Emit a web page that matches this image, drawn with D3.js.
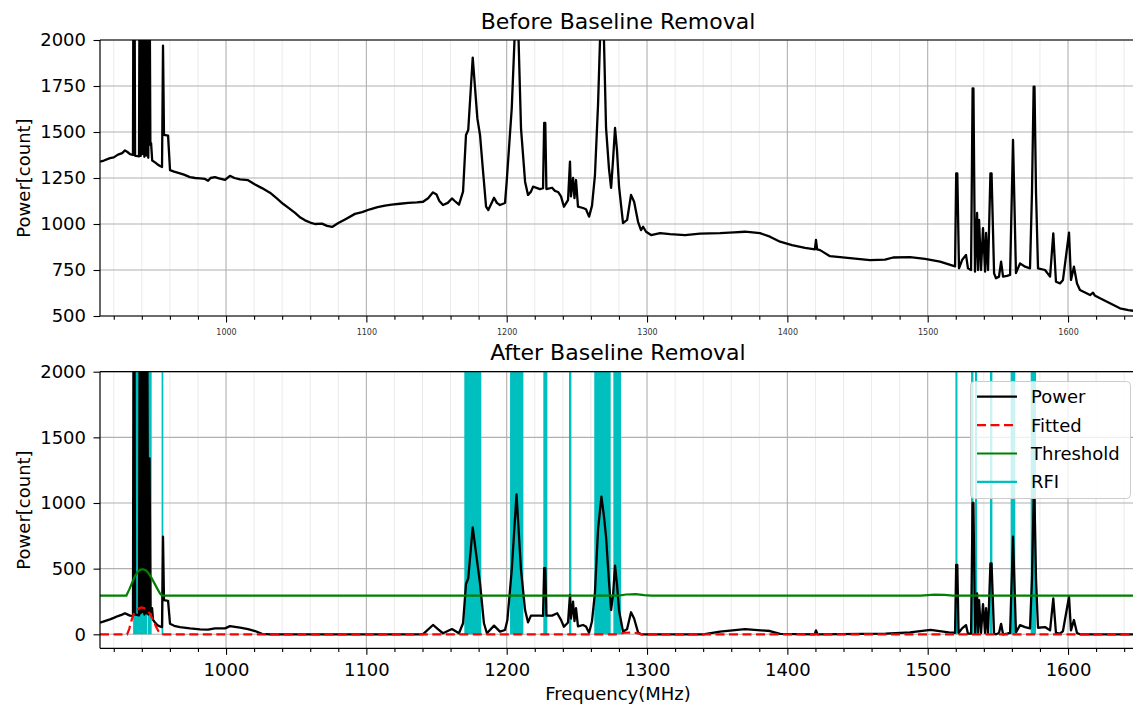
<!DOCTYPE html>
<html>
<head>
<meta charset="utf-8">
<script src="https://cdnjs.cloudflare.com/ajax/libs/d3/7.8.5/d3.min.js"></script>
<style>
body { margin: 0; background: #fff; }
svg text { font-family: "DejaVu Sans", sans-serif; fill: #000; }
</style>
</head>
<body>
<div class="svgHolder"></div>
<script>
const wd = 1133
const ht = 706

const rawSpectrum = [
  [910.2,1339],[913,1345],[917.3,1358],[920,1362],[923,1377],[926,1385],[928,1400],[930,1390],[931.6,1380],[933.7,1375],
  [934.1,2600],[934.7,2600],[935.2,1372],[935.9,1370],[938,1368],[938.5,2600],[939.2,1370],[939.8,2600],[940.5,1380],
  [941.1,2600],[941.8,1365],[942.4,2600],[943.2,1372],[943.8,2600],[944.6,1360],[945.4,2600],[946.1,1430],[946.6,1440],
  [947.4,1345],[949.4,1335],[951,1325],[953,1315],[954.4,1310],[955.1,1969],[955.8,1484],[958.7,1480],[960.1,1293],
  [963,1285],[967.2,1275],[970,1268],[974.3,1255],[978,1250],[981.5,1248],[985,1245],[987.2,1235],[989,1250],[992.1,1255],
  [995,1248],[999.3,1240],[1002.8,1262],[1006,1250],[1010,1243],[1015.7,1238],[1020.7,1215],[1025.6,1195],[1031.3,1170],
  [1036,1140],[1040.6,1110],[1045,1085],[1049.2,1060],[1053,1035],[1056.3,1020],[1060,1008],[1063.4,1000],[1068.4,1002],
  [1072,990],[1075.6,984],[1080,1005],[1084.8,1025],[1091.9,1055],[1097,1065],[1102.6,1080],[1108,1092],[1113.3,1100],
  [1118,1105],[1124,1110],[1130,1115],[1136,1118],[1140.4,1121],[1144,1140],[1147.5,1172],[1150,1160],[1152,1125],
  [1154.6,1103],[1158,1115],[1161,1139],[1163,1125],[1166,1105],[1168.9,1176],[1171,1484],[1172.6,1511],[1175.8,1904],
  [1179.1,1574],[1181,1484],[1183,1300],[1185.3,1094],[1186.9,1076],[1189,1110],[1191,1143],[1193,1115],[1195.2,1103],
  [1198.8,1114],[1200,1230],[1203.6,1629],[1206.1,2100],[1208.1,2100],[1210.2,1520],[1213.1,1230],[1215.2,1158],
  [1217.3,1176],[1218.8,1203],[1223.7,1190],[1225.9,1195],[1226.7,1549],[1227.5,1549],[1228.3,1190],[1232.3,1197],
  [1234.4,1180],[1236.6,1174],[1238.7,1150],[1240.8,1094],[1243.7,1130],[1245.1,1339],[1245.8,1150],[1247.3,1250],
  [1248.3,1141],[1249.4,1239],[1250.8,1094],[1254.4,1087],[1256.5,1080],[1258.7,1040],[1260.8,1100],[1262.9,1266],
  [1265.1,1650],[1266.9,2100],[1269,2100],[1270.8,1522],[1272.9,1300],[1274.4,1196],[1275.8,1350],[1277.2,1522],
  [1278.6,1400],[1280.1,1200],[1282.9,1005],[1285.8,1022],[1288.6,1158],[1290.8,1121],[1293.6,1012],[1295.7,967],
  [1297.2,985],[1299.3,958],[1302.9,940],[1309.3,950],[1316.4,945],[1327.1,940],[1337.8,948],[1352,950],[1362,955],
  [1369.8,958],[1380.5,950],[1387.6,931],[1394.8,904],[1403.3,885],[1412.6,870],[1419.6,862],[1420.4,913],[1421.2,862],
  [1423.3,858],[1430.4,825],[1444.7,815],[1458.9,804],[1469.6,806],[1475.3,818],[1487.4,820],[1498.1,810],[1508.8,795],
  [1519.5,770],[1520.3,1275],[1521.1,1275],[1522.3,759],[1524.5,804],[1527.3,832],[1528.7,759],[1530.9,750],
  [1532,1737],[1532.6,1737],[1533.7,741],[1535.2,1060],[1535.9,750],[1536.6,1022],[1538,750],[1539.4,978],[1540.9,741],
  [1541.6,951],[1543,750],[1544.7,1275],[1545.5,1275],[1547.3,732],[1548.7,705],[1550.8,714],[1552.3,795],[1553.7,714],
  [1556.5,718],[1558.7,723],[1560.8,1457],[1562.9,733],[1565.8,786],[1569.4,768],[1572.9,759],[1574.3,1168],
  [1575.5,1746],[1576.1,1746],[1577.2,1168],[1578.6,759],[1583.6,750],[1587.2,714],[1589.5,949],[1591.4,686],
  [1594.3,677],[1596.4,696],[1600.7,953],[1602.1,696],[1604.2,768],[1606.4,677],[1608.5,641],[1615.7,614],[1617.8,627],
  [1619,612],[1622.8,596],[1629.9,569],[1637,542],[1643,532],[1650,525]
]

// [MHz, count] after baseline removal
const cleanSpectrum = [
  [910.2,88],[913,98],[917.3,114],[920,125],[923,139],[926,150],[928,160],[930,150],[931.6,142],[933.7,140],
  [934.1,2600],[934.7,2600],[935.2,150],[935.9,150],[938,145],[938.5,2600],[939.2,160],[939.8,2600],[940.5,170],
  [941.1,2600],[941.8,150],[942.4,2600],[943.2,160],[943.8,2600],[944.6,150],[945.5,1340],[946.2,170],[946.6,200],
  [947.3,200],[948,110],[949.4,90],[951,70],[953,60],[954.4,55],[955.1,743],[955.8,261],[958.7,255],[960.1,80],
  [963,65],[967.2,55],[974.3,45],[981.5,38],[987.2,35],[992.1,45],[999.3,45],[1002.8,62],[1010,50],[1015.7,40],
  [1020.7,25],[1025.6,3],[1031.3,0],[1136,0],[1140.4,2],[1147.5,71],[1151,40],[1154.6,8],[1161,40],[1166,8],
  [1168.9,84],[1171,383],[1172.6,426],[1175.8,815],[1179.1,540],[1181,388],[1183.8,84],[1185.9,8],[1191,66],
  [1195.2,20],[1198.8,33],[1200.5,109],[1203.6,490],[1207,1066],[1210.2,490],[1213.1,185],[1215.2,91],[1217.3,142],
  [1223.7,142],[1225.9,140],[1226.7,503],[1227.5,503],[1228.3,142],[1232.3,142],[1236,160],[1238.7,110],[1240.8,58],
  [1243.7,90],[1245.1,300],[1245.8,120],[1247.3,248],[1248.3,100],[1249.4,200],[1250.8,60],[1254.4,71],[1256.5,60],
  [1258.7,12],[1260.8,100],[1262.9,320],[1265.1,800],[1267.5,1048],[1269.3,900],[1270.8,743],[1272.9,400],
  [1274.4,185],[1275.8,300],[1277.2,523],[1278.6,380],[1280.1,180],[1282.9,20],[1285.8,40],[1288.6,168],[1290.8,120],
  [1293.6,15],[1295.7,0],[1340,0],[1352,20],[1369.8,40],[1387.6,25],[1394.8,3],[1419.5,0],[1420.4,30],[1421.5,0],
  [1470,5],[1487.4,15],[1502,33],[1515,15],[1519.5,12],[1520.3,528],[1521.1,528],[1522,10],[1524.5,45],[1527.3,70],
  [1528.7,5],[1530.9,5],[1532,1000],[1532.6,1000],[1533.7,5],[1535.2,312],[1535.9,10],[1536.6,260],[1538,10],
  [1539.4,230],[1540.9,10],[1541.6,200],[1543,10],[1544.7,540],[1545.5,540],[1547.3,5],[1548.7,0],[1550.8,10],
  [1552.3,80],[1553.7,0],[1556.5,5],[1558.7,10],[1560.8,743],[1562.9,15],[1565.8,70],[1569.4,55],[1572.9,45],
  [1574.3,420],[1575.5,1030],[1576.1,1030],[1577.2,420],[1578.6,50],[1583.6,55],[1587.2,30],[1589.5,274],[1591.4,10],
  [1594.3,5],[1596.4,25],[1600.7,286],[1602.1,30],[1604.2,109],[1606.4,10],[1608.5,0],[1650,0]
]

const fitted = [
  [910.2,0],[929.5,0],[931,40],[932.5,100],[934,150],[936,180],[938,198],[940,205],[942,198],[944,182],[946,152],
  [948,112],[950,62],[952,20],[954,0],[1278,0],[1284,12],[1290,14],[1297,0],[1650,0]
]

const threshold = [
  [910.2,295],[929,295],[931,340],[933,392],[935,440],[937,475],[939,493],[941,495],[943,486],[945,462],[947,428],
  [949,388],[951,348],[953,310],[954.5,295],[1280,295],[1285,303],[1292,306],[1298,298],[1303,295],[1495,295],
  [1505,302],[1512,300],[1518,295],[1650,295]
]

// flagged channels [start, end] MHz
const rfiBands = [
  [933.8,943.9],[944.3,947.0],[954.1,955.3],[1169.8,1181.9],[1202.4,1211.9],[1226.1,1229.0],[1244.4,1246.1],
  [1262.4,1274.1],[1276.0,1281.5],[1519.8,1521.2],[1530.9,1532.6],[1533.7,1535.2],[1544.4,1546.1],[1559.1,1562.4],
  [1573.4,1577.2]
]

const xTicks = [1000,1100,1200,1300,1400,1500,1600]
const yTicksTop = [500,750,1000,1250,1500,1750,2000]
const yTicksBot = [0,500,1000,1500,2000]

const svg = d3.select(".svgHolder").append("svg")
.attr("width", wd)
.attr("height", ht)

const x = d3.scaleLinear().domain([910.2, 1650]).range([100, 1138.2])
const minorTicks = d3.range(920, 1650, 20).filter(d => d % 100 != 0)

const yTop = d3.scaleLinear().domain([500, 2000]).range([316, 40])
const yBot = d3.scaleLinear().domain([-106.6, 2000]).range([648.3, 371.7])

function panel(y, yTicks, id, tickFont, labelPad) {
  let top = y.range()[1], bot = y.range()[0]
  let g = svg.append("g")

  svg.append("clipPath").attr("id", id)
  .append("rect").attr("x", 100).attr("y", top).attr("width", 1040).attr("height", bot - top)

  // grid
  g.selectAll(".minor").data(minorTicks).enter().append("line")
  .attr("x1", d => x(d)).attr("x2", d => x(d)).attr("y1", top).attr("y2", bot)
  .style("stroke", "#ebebeb").style("stroke-width", "1px")
  g.selectAll(".vmaj").data(xTicks).enter().append("line")
  .attr("x1", d => x(d)).attr("x2", d => x(d)).attr("y1", top).attr("y2", bot)
  .style("stroke", "#b0b0b0").style("stroke-width", "1.1px")
  g.selectAll(".hmaj").data(yTicks).enter().append("line")
  .attr("x1", 100).attr("x2", 1140).attr("y1", d => y(d)).attr("y2", d => y(d))
  .style("stroke", "#b0b0b0").style("stroke-width", "1.1px")

  let plot = svg.append("g").attr("clip-path", "url(#" + id + ")")

  // axes
  let xa = svg.append("g").attr("transform", "translate(0," + bot + ")")
  .call(d3.axisBottom(x).tickValues(xTicks).tickSize(6.5).tickPadding(labelPad).tickFormat(d3.format("d")))
  xa.selectAll("text").style("font-size", tickFont + "px").style("fill", tickFont < 10 ? "#333" : "#000")
  xa.select(".domain").remove()
  svg.append("g").attr("transform", "translate(0," + bot + ")")
  .call(d3.axisBottom(x).tickValues(minorTicks).tickSize(3.7).tickFormat(""))
  .select(".domain").remove()

  let ya = svg.append("g").attr("transform", "translate(100,0)")
  .call(d3.axisLeft(y).tickValues(yTicks).tickSize(6.5).tickPadding(7.5).tickFormat(d3.format("d")))
  ya.selectAll("text").style("font-size", "18px")
  ya.select(".domain").remove()
  svg.selectAll(".tick line").style("stroke", "#000").style("stroke-width", "1.1px")

  // frame
  svg.append("line").attr("x1", 100).attr("x2", 100).attr("y1", top).attr("y2", bot)
  .style("stroke", "#000").style("stroke-width", "1.2px")
  svg.append("line").attr("x1", 100).attr("x2", 1140).attr("y1", bot).attr("y2", bot)
  .style("stroke", "#000").style("stroke-width", "1.2px")
  svg.append("line").attr("x1", 100).attr("x2", 1140).attr("y1", top).attr("y2", top)
  .style("stroke", "#000").style("stroke-width", "1.2px")

  svg.append("text")
  .attr("transform", "translate(30," + ((top + bot) / 2) + ") rotate(-90)")
  .attr("text-anchor", "middle")
  .style("font-size", "18px")
  .text("Power[count]")

  return plot
}

const lineFunc = (y) => d3.line().x(d => x(d[0])).y(d => y(d[1]))

// before
const plotTop = panel(yTop, yTicksTop, "clipTop", 8, 6.5)
plotTop.append("path")
.attr("d", lineFunc(yTop)(rawSpectrum))
.attr("fill", "none")
.style("stroke", "#000").style("stroke-width", "2.3px").style("stroke-linejoin", "round")

svg.append("text").attr("x", 618).attr("y", 28.5).attr("text-anchor", "middle")
.style("font-size", "22px").text("Before Baseline Removal")

// after
const plotBot = panel(yBot, yTicksBot, "clipBot", 18, 8)

plotBot.selectAll(".rfi").data(rfiBands).enter().append("rect")
.attr("x", d => x(d[0]))
.attr("width", d => Math.max(x(d[1]) - x(d[0]), 1.5))
.attr("y", yBot(2000))
.attr("height", yBot(0) - yBot(2000))
.attr("fill", "#00bfbf")

plotBot.append("path")
.attr("d", lineFunc(yBot)(cleanSpectrum))
.attr("fill", "none")
.style("stroke", "#000").style("stroke-width", "2.3px").style("stroke-linejoin", "round")

plotBot.append("path")
.attr("d", lineFunc(yBot)(fitted))
.attr("fill", "none")
.style("stroke", "#ff0000").style("stroke-width", "2.2px").style("stroke-dasharray", "9,4.5")

plotBot.append("path")
.attr("d", lineFunc(yBot)(threshold))
.attr("fill", "none")
.style("stroke", "#008000").style("stroke-width", "2.2px")

svg.append("text").attr("x", 618).attr("y", 360).attr("text-anchor", "middle")
.style("font-size", "22px").text("After Baseline Removal")

svg.append("text").attr("x", 618).attr("y", 700).attr("text-anchor", "middle")
.style("font-size", "18px").text("Frequency(MHz)")

// legend
const legendItems = [
  {label: "Power", col: "#000", dash: null},
  {label: "Fitted", col: "#ff0000", dash: "9,4.5"},
  {label: "Threshold", col: "#008000", dash: null},
  {label: "RFI", col: "#00bfbf", dash: null}
]
const legend = svg.append("g")
legend.append("rect")
.attr("x", 970.5).attr("y", 381.5).attr("width", 160).attr("height", 117).attr("rx", 4)
.attr("fill", "#fff").attr("fill-opacity", 0.8)
.style("stroke", "#cccccc").style("stroke-width", "1px")

legendItems.forEach((d, i) => {
  let ly = 396.7 + i * 28.4
  legend.append("line")
  .attr("x1", 977).attr("x2", 1017).attr("y1", ly).attr("y2", ly)
  .style("stroke", d.col).style("stroke-width", "2.2px")
  .style("stroke-dasharray", d.dash)
  legend.append("text")
  .attr("x", 1031).attr("y", ly).attr("dy", "0.36em")
  .style("font-size", "18px")
  .text(d.label)
})
</script>
</body>
</html>
